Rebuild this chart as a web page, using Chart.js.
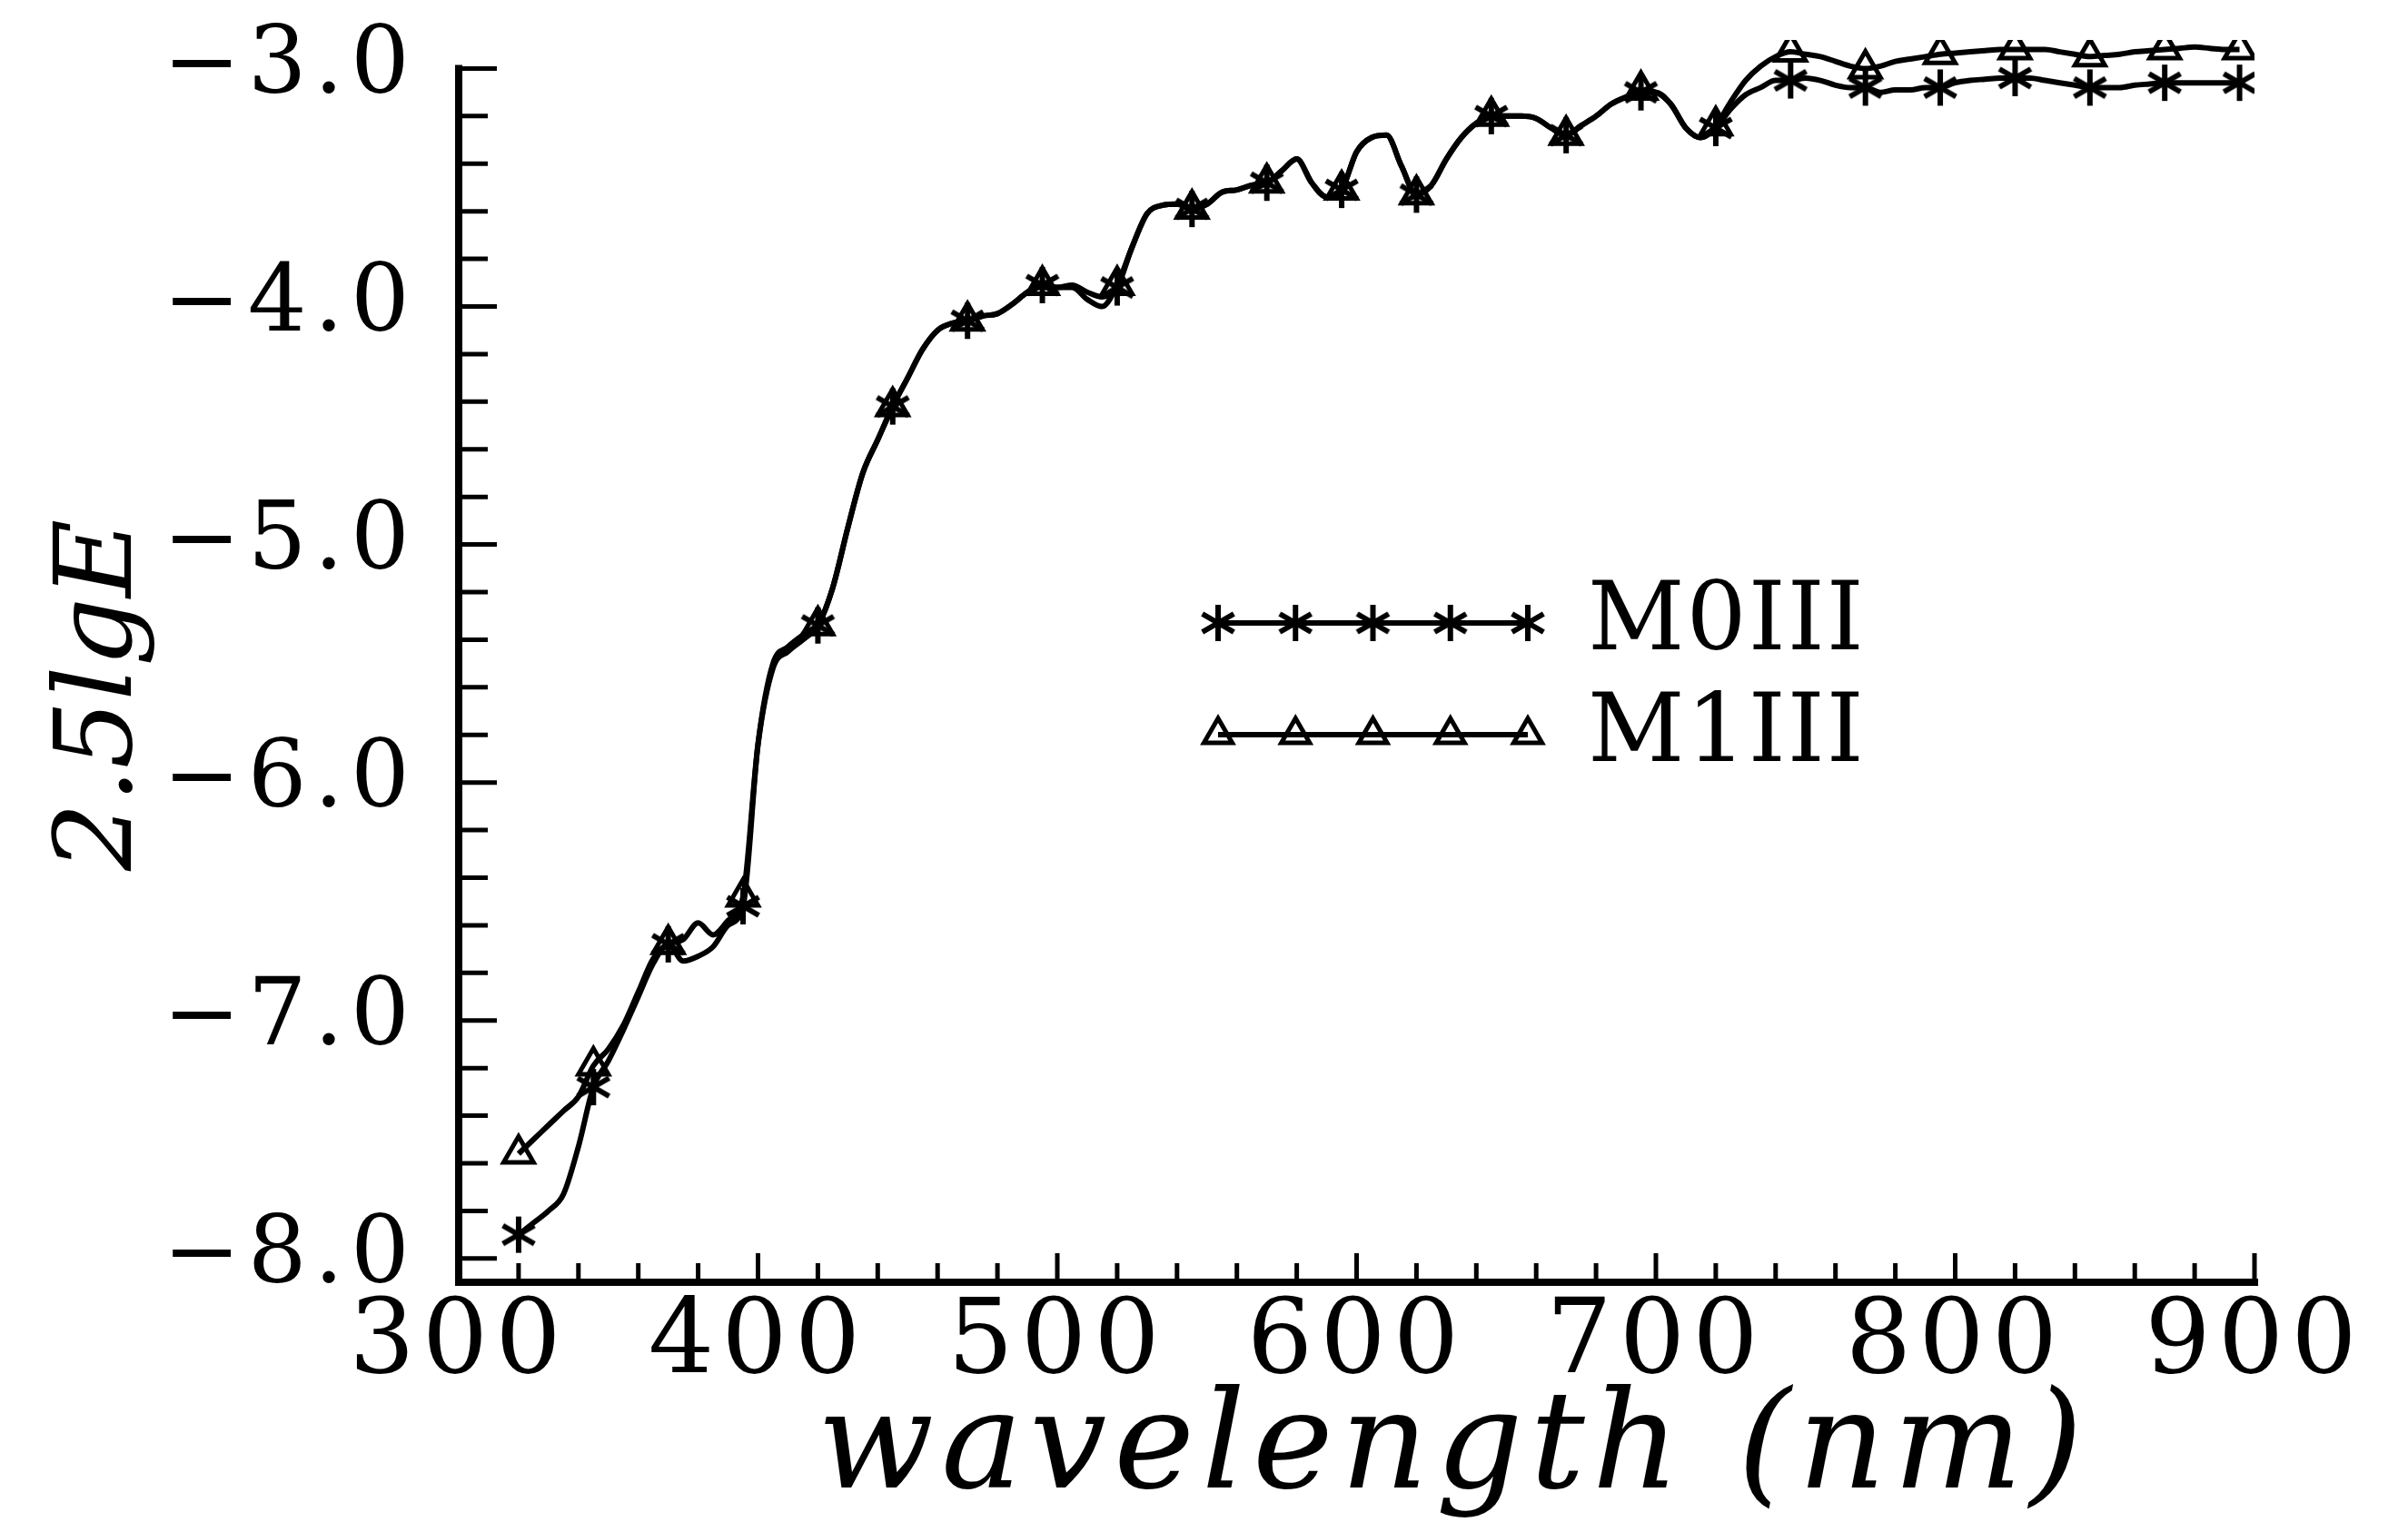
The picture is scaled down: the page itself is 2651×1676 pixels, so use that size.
<!DOCTYPE html>
<html>
<head>
<meta charset="utf-8">
<title>2.5 lgE versus wavelength, M0III and M1III</title>
<script src="https://cdn.jsdelivr.net/npm/chart.js@4.4.1/dist/chart.umd.min.js"></script>
<style>
  html, body { margin: 0; padding: 0; background: #fff; }
  #wrap { width: 2651px; height: 1676px; }
</style>
</head>
<body>
<div id="wrap"><canvas id="spectrum"></canvas></div>
<script>
// wavelength grid (nm), every 5 nm
const wavelengths = [
  320, 325, 330, 335, 340, 345, 350, 355, 360, 365, 370, 375, 380, 385, 390, 395,
  400, 405, 410, 415, 420, 425, 430, 435, 440, 445, 450, 455, 460, 465, 470, 475,
  480, 485, 490, 495, 500, 505, 510, 515, 520, 525, 530, 535, 540, 545, 550, 555,
  560, 565, 570, 575, 580, 585, 590, 595, 600, 605, 610, 615, 620, 625, 630, 635,
  640, 645, 650, 655, 660, 665, 670, 675, 680, 685, 690, 695, 700, 705, 710, 715,
  720, 725, 730, 735, 740, 745, 750, 755, 760, 765, 770, 775, 780, 785, 790, 795,
  800, 805, 810, 815, 820, 825, 830, 835, 840, 845, 850, 855, 860, 865, 870, 875,
  880, 885, 890, 895
];

const m0iii = [
  -7.90, -7.85, -7.80, -7.73, -7.53, -7.28, -7.17, -7.04, -6.90, -6.76, -6.68, -6.75, -6.73, -6.69, -6.60, -6.52,
  -5.84, -5.50, -5.43, -5.38, -5.34, -5.18, -4.93, -4.70, -4.56, -4.42, -4.30, -4.18, -4.10, -4.07, -4.06, -4.04,
  -4.03, -3.99, -3.94, -3.91, -3.92, -3.91, -3.94, -3.96, -3.92, -3.75, -3.61, -3.575, -3.57, -3.59, -3.57, -3.52,
  -3.51, -3.49, -3.48, -3.43, -3.38, -3.48, -3.54, -3.51, -3.35, -3.29, -3.28, -3.41, -3.53, -3.49, -3.38, -3.29,
  -3.23, -3.20, -3.20, -3.20, -3.21, -3.25, -3.28, -3.24, -3.20, -3.15, -3.12, -3.10, -3.10, -3.15, -3.25, -3.29,
  -3.25, -3.17, -3.11, -3.08, -3.05, -3.05, -3.04, -3.05, -3.07, -3.08, -3.08, -3.10, -3.09, -3.09, -3.08, -3.08,
  -3.06, -3.05, -3.045, -3.04, -3.04, -3.04, -3.05, -3.06, -3.07, -3.08, -3.08, -3.08, -3.07, -3.065, -3.06, -3.06,
  -3.06, -3.06, -3.06, -3.06
];

const m1iii = [
  -7.56, -7.50, -7.44, -7.38, -7.32, -7.19, -7.12, -7.02, -6.88, -6.74, -6.68, -6.66, -6.59, -6.64, -6.58, -6.48,
  -5.84, -5.52, -5.45, -5.40, -5.34, -5.18, -4.93, -4.70, -4.56, -4.42, -4.30, -4.18, -4.10, -4.07, -4.06, -4.04,
  -4.03, -3.99, -3.94, -3.91, -3.92, -3.92, -3.97, -4.00, -3.91, -3.75, -3.61, -3.575, -3.57, -3.59, -3.57, -3.52,
  -3.51, -3.49, -3.48, -3.43, -3.38, -3.48, -3.54, -3.51, -3.35, -3.29, -3.28, -3.41, -3.53, -3.49, -3.38, -3.29,
  -3.23, -3.20, -3.20, -3.20, -3.21, -3.25, -3.28, -3.24, -3.20, -3.15, -3.12, -3.09, -3.10, -3.15, -3.25, -3.29,
  -3.24, -3.14, -3.05, -2.99, -2.95, -2.93, -2.94, -2.95, -2.97, -2.99, -3.00, -2.99, -2.97, -2.96, -2.95, -2.94,
  -2.935, -2.93, -2.925, -2.92, -2.92, -2.92, -2.92, -2.93, -2.94, -2.95, -2.945, -2.94, -2.93, -2.925, -2.92, -2.915,
  -2.91, -2.915, -2.92, -2.92
];

// wavelengths that carry a marker symbol
const markerWavelengths = [320, 345, 370, 395, 420, 445, 470, 495, 520, 545, 570, 595,
  620, 645, 670, 695, 720, 745, 770, 795, 820, 845, 870, 895];

const seriesNames = ['M0III', 'M1III'];
const xTickValues = [300, 400, 500, 600, 700, 800, 900];
const yTickValues = [-8, -7, -6, -5, -4, -3];

const X_MIN = 300, X_MAX = 900;
const Y_MIN = -8.1, Y_AXIS_TOP = -3.0, Y_MAX = -2.88;

const SERIF = '"DejaVu Serif", "Liberation Serif", serif';

// six-armed asterisk used for M0III
function makeAsterisk(r, lw) {
  const c = document.createElement('canvas');
  const s = Math.ceil(2 * r + lw + 2);
  c.width = s;
  c.height = s;
  const g = c.getContext('2d');
  g.strokeStyle = '#000';
  g.lineWidth = lw;
  g.translate(s / 2, s / 2);
  for (let k = 0; k < 3; k++) {
    const a = Math.PI / 2 + k * Math.PI / 3;
    g.beginPath();
    g.moveTo(Math.cos(a) * r, Math.sin(a) * r);
    g.lineTo(-Math.cos(a) * r, -Math.sin(a) * r);
    g.stroke();
  }
  return c;
}

const asterisk = makeAsterisk(20, 6);

const isMarked = ctx => markerWavelengths.includes(wavelengths[ctx.dataIndex]);

function toPoints(values) {
  return wavelengths.map((w, i) => ({ x: w, y: values[i] }));
}

// the old TeX fonts are wider than DejaVu, so open the letters up a bit.
// y title is drawn first (z -1), x title and tick labels after the datasets (z 1)
const letterSpacing = {
  id: 'letterSpacing',
  beforeDraw(chart) { chart.ctx.letterSpacing = '0px'; },
  afterDatasetsDraw(chart) { chart.ctx.letterSpacing = '8px'; }
};

// axes drawn as an L with ticks pointing inward, like the original plot
const inwardAxes = {
  id: 'inwardAxes',
  afterDatasetsDraw(chart) {
    const { ctx, scales: { x, y } } = chart;
    const xl = x.getPixelForValue(X_MIN);
    const xr = x.getPixelForValue(X_MAX);
    const yb = y.getPixelForValue(Y_MIN);
    const yt = y.getPixelForValue(Y_AXIS_TOP);
    ctx.save();
    ctx.strokeStyle = '#000';
    ctx.lineCap = 'square';
    ctx.lineWidth = 8;
    ctx.beginPath();
    ctx.moveTo(xl, yt);
    ctx.lineTo(xl, yb);
    ctx.lineTo(xr, yb);
    ctx.stroke();

    ctx.lineCap = 'butt';
    ctx.lineWidth = 5;
    ctx.beginPath();
    for (let v = X_MIN + 20; v <= X_MAX; v += 20) {
      const px = x.getPixelForValue(v);
      const len = v % 100 === 0 ? 32 : 21;
      ctx.moveTo(px, yb);
      ctx.lineTo(px, yb - len);
    }
    for (let k = 0; k <= 25; k++) {
      const v = -8 + k * 0.2;
      const py = y.getPixelForValue(v);
      const len = k % 5 === 0 ? 42 : 32;
      ctx.moveTo(xl, py);
      ctx.lineTo(xl + len, py);
    }
    ctx.stroke();
    ctx.restore();
  }
};

// legend: a short line with five symbols, then the name
const sampleLegend = {
  id: 'sampleLegend',
  afterDraw(chart) {
    const { ctx } = chart;
    const x0 = 1341, x1 = 1682, rows = [686, 809];
    ctx.save();
    ctx.letterSpacing = '2px';
    chart.data.datasets.forEach((ds, i) => {
      const yy = rows[i];
      ctx.strokeStyle = '#000';
      ctx.lineWidth = 6;
      ctx.beginPath();
      ctx.moveTo(x0, yy);
      ctx.lineTo(x1, yy);
      ctx.stroke();
      for (let k = 0; k < 5; k++) {
        const px = x0 + (x1 - x0) * k / 4;
        ctx.fillStyle = 'rgba(0,0,0,0)';
        ctx.lineWidth = 5;
        Chart.helpers.drawPoint(ctx, {
          pointStyle: ds.pointStyle, radius: i === 0 ? 16 : 18, borderWidth: 5, rotation: 0
        }, px, yy);
      }
      ctx.fillStyle = '#000';
      ctx.font = '104px ' + SERIF;
      ctx.textAlign = 'left';
      ctx.textBaseline = 'middle';
      ctx.fillText(ds.label, 1748, yy + 2);
    });
    ctx.restore();
  }
};

new Chart(document.getElementById('spectrum'), {
  type: 'line',
  data: {
    datasets: [
      {
        label: seriesNames[0],
        data: toPoints(m0iii),
        borderColor: '#000',
        borderWidth: 6,
        cubicInterpolationMode: 'monotone',
        pointStyle: asterisk,
        pointRadius: ctx => isMarked(ctx) ? 16 : 0,
        pointBorderColor: '#000',
        pointBackgroundColor: '#000'
      },
      {
        label: seriesNames[1],
        data: toPoints(m1iii),
        borderColor: '#000',
        borderWidth: 6,
        cubicInterpolationMode: 'monotone',
        pointStyle: 'triangle',
        pointRadius: ctx => isMarked(ctx) ? 19 : 0,
        pointBorderWidth: 5,
        pointBorderColor: '#000',
        pointBackgroundColor: 'rgba(0,0,0,0)'
      }
    ]
  },
  options: {
    responsive: true,
    maintainAspectRatio: false,
    animation: false,
    events: [],
    layout: { padding: { top: 44, right: 169, bottom: 0, left: 0 } },
    plugins: {
      legend: { display: false },
      tooltip: { enabled: false }
    },
    scales: {
      x: {
        type: 'linear',
        min: X_MIN,
        max: X_MAX,
        afterBuildTicks: s => { s.ticks = xTickValues.map(v => ({ value: v })); },
        afterFit: s => { s.height = 264; s.paddingLeft = 0; s.paddingRight = 0; },
        grid: { display: false, drawTicks: false, z: 1 },
        border: { display: false },
        ticks: {
          z: 1,
          autoSkip: false,
          color: '#000',
          padding: 12,
          maxRotation: 0,
          font: { family: SERIF, size: 114, lineHeight: 1 },
          callback: v => String(v)
        },
        title: {
          display: true,
          text: '\u2003 wavelength (nm)',
          color: '#000',
          font: { family: SERIF, size: 150, style: 'italic', lineHeight: 1 },
          padding: { top: 0, bottom: 2 }
        }
      },
      y: {
        type: 'linear',
        min: Y_MIN,
        max: Y_MAX,
        afterBuildTicks: s => { s.ticks = yTickValues.map(v => ({ value: v })); },
        afterFit: s => { s.width = 505; s.paddingTop = 0; s.paddingBottom = 0; },
        grid: { display: false, drawTicks: false },
        border: { display: false },
        ticks: {
          z: 1,
          color: '#000',
          padding: 46,
          font: { family: SERIF, size: 102, lineHeight: 1 },
          callback: v => '\u2212' + Math.abs(v).toFixed(1)
        },
        title: {
          display: true,
          text: '2.5lgE  ',
          color: '#000',
          font: { family: SERIF, size: 118, style: 'italic', lineHeight: 1 },
          padding: { top: 54, bottom: 0 }
        }
      }
    }
  },
  plugins: [letterSpacing, inwardAxes, sampleLegend]
});
</script>
</body>
</html>
